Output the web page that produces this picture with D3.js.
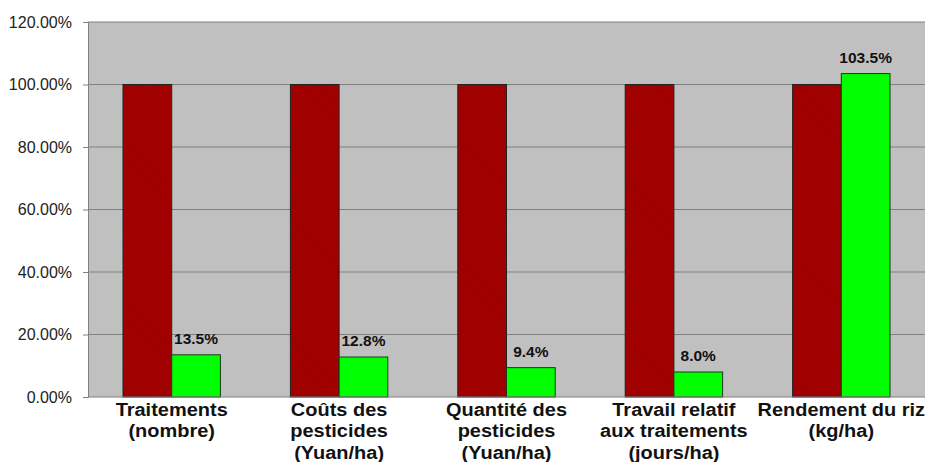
<!DOCTYPE html>
<meta charset="utf-8">
<html>
<script src="https://d3js.org/d3.v7.min.js"></script>
<style>
  body { margin: 0; background: #fff; }
  text { font-family: Arial, "Liberation Sans", sans-serif; }
</style>
<body>
<div id="chart"></div>
<script>
// data
const categories = [
  ["Traitements", "(nombre)"],
  ["Coûts des", "pesticides", "(Yuan/ha)"],
  ["Quantité des", "pesticides", "(Yuan/ha)"],
  ["Travail relatif", "aux traitements", "(jours/ha)"],
  ["Rendement du riz", "(kg/ha)"]
];
const before = [1.0, 1.0, 1.0, 1.0, 1.0];
const after = [0.135, 0.128, 0.094, 0.080, 1.035];
const afterLabels = ["13.5%", "12.8%", "9.4%", "8.0%", "103.5%"];
const yTicks = [0, 0.2, 0.4, 0.6, 0.8, 1.0, 1.2];

const W = 925, H = 462;
const margin = {top: 22, right: 0, bottom: 65, left: 88};
const width = W - margin.left - margin.right,
      height = H - margin.top - margin.bottom;

const svg = d3.select("#chart").append("svg")
  .attr("width", W).attr("height", H);

// hatch for the dark red bars
const defs = svg.append("defs");
const pat = defs.append("pattern")
  .attr("id", "hatch").attr("patternUnits", "userSpaceOnUse")
  .attr("width", 3).attr("height", 3)
  .attr("patternTransform", "rotate(-45)");
pat.append("rect").attr("width", 3).attr("height", 3).attr("fill", "#a50000");
pat.append("line").attr("x1", 0).attr("y1", 0).attr("x2", 0).attr("y2", 3)
  .attr("stroke", "#8a0000").attr("stroke-width", 1);

const g = svg.append("g").attr("transform", `translate(${margin.left},${margin.top})`);

const x = d3.scaleBand().domain(d3.range(categories.length)).range([0, width]);
const inner = d3.scaleBand().domain([0, 1]).range([35, x.bandwidth() - 35]);
const y = d3.scaleLinear().domain([0, 1.2]).range([height, 0]);

// plot background
g.append("rect").attr("width", width).attr("height", height).attr("fill", "#c0c0c0");

// grid
g.selectAll(".grid").data(yTicks.slice(1)).join("line")
  .attr("x1", 0).attr("x2", width)
  .attr("y1", d => y(d)).attr("y2", d => y(d))
  .attr("stroke", "#808080").attr("stroke-width", 1);

// y axis
const yAxis = g.append("g")
  .call(d3.axisLeft(y).tickValues(yTicks).tickFormat(d3.format(".2%")).tickSize(5).tickPadding(11));
yAxis.select(".domain").attr("stroke", "#808080");
yAxis.selectAll(".tick line").attr("stroke", "#808080");
yAxis.selectAll("text").attr("font-size", 16).attr("fill", "#222");

// bars
const grp = g.selectAll(".grp").data(categories).join("g")
  .attr("transform", (d, i) => `translate(${x(i)},0)`);

grp.append("rect")
  .attr("x", inner(0)).attr("width", inner.bandwidth())
  .attr("y", (d, i) => y(before[i])).attr("height", (d, i) => y(0) - y(before[i]))
  .attr("fill", "url(#hatch)").attr("stroke", "#222").attr("stroke-width", 1);

grp.append("rect")
  .attr("x", inner(1)).attr("width", inner.bandwidth())
  .attr("y", (d, i) => y(after[i])).attr("height", (d, i) => y(0) - y(after[i]))
  .attr("fill", "#00ff00").attr("stroke", "#1a3a1a").attr("stroke-width", 1);

grp.append("text")
  .attr("x", inner(1) + inner.bandwidth() / 2)
  .attr("y", (d, i) => y(after[i]) - 11)
  .attr("text-anchor", "middle").attr("font-size", 15.5).attr("font-weight", "bold")
  .attr("fill", "#111")
  .text((d, i) => afterLabels[i]);

// x axis line
g.append("line").attr("x1", 0).attr("x2", width).attr("y1", height).attr("y2", height)
  .attr("stroke", "#808080");

// category labels (slightly stretched, like the source)
grp.append("text")
  .attr("transform", `translate(${x.bandwidth() / 2},${height + 19}) scale(1.08,1)`)
  .attr("text-anchor", "middle").attr("font-size", 18.5).attr("font-weight", "bold")
  .attr("fill", "#111")
  .selectAll("tspan").data(d => d).join("tspan")
  .attr("x", 0).attr("dy", (d, i) => i === 0 ? 0 : 21.5)
  .text(d => d);
</script>
</body>
</html>
